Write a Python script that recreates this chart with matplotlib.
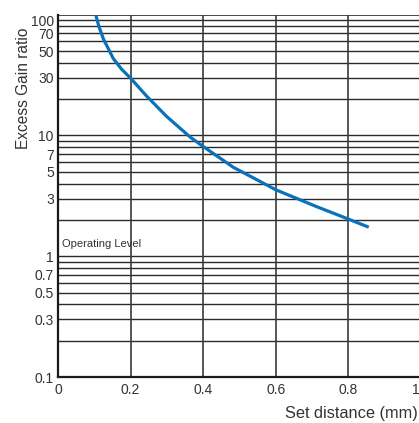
import numpy as np
import matplotlib.pyplot as plt
import matplotlib.transforms as mtransforms

plt.rcParams['font.family'] = ['Liberation Sans', 'DejaVu Sans']

# curve
dist = [0.104, 0.112, 0.125, 0.152, 0.175, 0.2, 0.244, 0.30, 0.364, 0.40, 0.483, 0.6, 0.713, 0.8, 0.856]
gain = [100, 81, 63, 43.5, 35.4, 29.8, 21.2, 14.3, 9.7, 8.1, 5.45, 3.55, 2.57, 2.03, 1.74]

ytick_vals = [100, 70, 50, 30, 10, 7, 5, 3, 1, 0.7, 0.5, 0.3, 0.1]
ytick_labels = ['100', '70', '50', '30', '10', '7', '5', '3', '1', '0.7', '0.5', '0.3', '0.1']
xtick_vals = [0, 0.2, 0.4, 0.6, 0.8, 1.0]
xtick_labels = ['0', '0.2', '0.4', '0.6', '0.8', '1']

fig = plt.figure(figsize=(4.19, 4.23), dpi=100)
ax = fig.add_axes([58 / 419, 46 / 423, 363 / 419, 362.3 / 423])

ax.set_yscale('log')
ax.set_xlim(0, 1)
ax.set_ylim(0.1, 100)

# grid: every 1..9 step per decade
for dec in [0.1, 1, 10]:
    for k in range(1, 10):
        ax.axhline(dec * k, color='#2a2a2a', lw=1.0, zorder=1)
ax.axhline(100, color='#2a2a2a', lw=1.2, zorder=1)
for xv in [0.2, 0.4, 0.6, 0.8]:
    ax.axvline(xv, color='#3a3a3a', lw=1.2, zorder=1)

ax.plot(dist, gain, color='#0a72b9', lw=2.3, zorder=3, solid_capstyle='butt',
        solid_joinstyle='round')

ax.set_yticks(ytick_vals)
ax.set_yticklabels(ytick_labels)
ax.yaxis.set_minor_locator(plt.NullLocator())
ax.set_xticks(xtick_vals)
ax.set_xticklabels(xtick_labels)
ax.tick_params(length=0, labelsize=10, colors='#333333', pad=4)
ax.tick_params(axis='y', pad=3)
ax.get_yticklabels()[0].set_va('top')

# last x label sits on the figure edge; nudge it in so it stays whole
last = ax.get_xticklabels()[-1]
last.set_transform(last.get_transform() +
                   mtransforms.ScaledTranslation(-5 / 100, 0, fig.dpi_scale_trans))

for s in ['top', 'right']:
    ax.spines[s].set_visible(False)
for s in ['left', 'bottom']:
    ax.spines[s].set_linewidth(1.6)
    ax.spines[s].set_color('#1a1a1a')

ax.text(0.012, 1.15, 'Operating Level', fontsize=8, color='#333333', va='bottom', ha='left')

fig.text(285 / 419, 1 - 413 / 423, 'Set distance (mm)', fontsize=11.8, color='#333333',
         ha='left', va='center')
fig.text(23 / 419, 1 - 88 / 423, 'Excess Gain ratio', fontsize=11.2, color='#333333',
         ha='center', va='center', rotation=90)

fig.savefig('out.png', dpi=100)
